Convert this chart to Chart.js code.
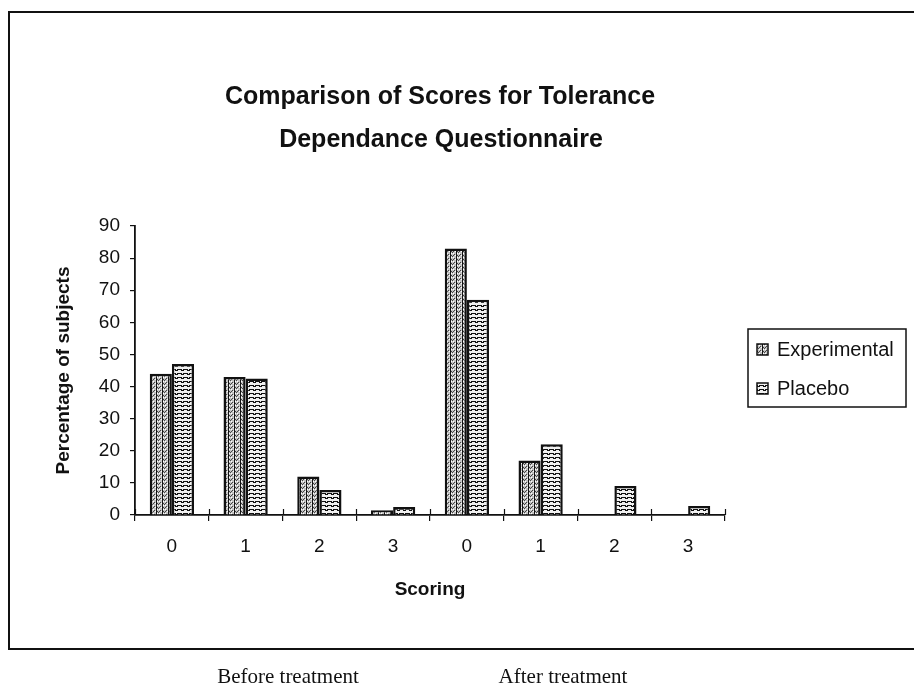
<!DOCTYPE html>
<html>
<head>
<meta charset="utf-8">
<script src="https://cdn.jsdelivr.net/npm/chart.js@4/dist/chart.umd.min.js"></script>
<style>
  html, body { margin: 0; padding: 0; background: #fff; }
  body { width: 914px; height: 697px; position: relative; overflow: hidden; }
  #wrap { position: absolute; left: 0; top: 0; width: 914px; height: 697px; }
  #frame { position: absolute; left: 8px; top: 11px; width: 920px; height: 635px;
           border: 2px solid #111; box-sizing: content-box; pointer-events: none; }
  .cap { position: absolute; top: 664px; font-family: "Liberation Serif", "Times New Roman", serif;
         font-size: 21px; color: #111; white-space: nowrap; transform: translateX(-50%); }
</style>
</head>
<body>
<div id="wrap"><canvas id="c" width="914" height="697"></canvas></div>
<div id="frame"></div>
<div class="cap" style="left:288px">Before treatment</div>
<div class="cap" style="left:563px">After treatment</div>
<script>
// ---- data ----
const categories = ["0", "1", "2", "3", "0", "1", "2", "3"];
const experimental = [44, 43, 12, 1.5, 83, 17, 0, 0];
const placebo = [47, 42.5, 7.8, 2.5, 67, 22, 9, 2.8];
const seriesNames = ["Experimental", "Placebo"];
const titleLines = ["Comparison of Scores for Tolerance", "Dependance Questionnaire"];
const yTitle = "Percentage of subjects";
const xTitle = "Scoring";

const FONT = '"Liberation Sans", Arial, sans-serif';

// ---- patterns ----
function makeExpPattern() {
  const c = document.createElement('canvas'); c.width = 6; c.height = 4;
  const g = c.getContext('2d');
  g.fillStyle = '#c4c4c4'; g.fillRect(0, 0, 6, 4);
  g.fillStyle = '#444';
  g.fillRect(2, 0, 1, 1); g.fillRect(4, 2, 1, 1); g.fillRect(1, 3, 1, 1); g.fillRect(3, 3, 1, 1);
  g.fillStyle = '#fff'; g.fillRect(3, 1, 1, 1); g.fillRect(5, 3, 1, 1); g.fillRect(1, 1, 1, 1);
  g.fillStyle = '#111'; g.fillRect(0, 0, 1, 4);
  return g.createPattern(c, 'repeat');
}
function makePlaPattern() {
  const c = document.createElement('canvas'); c.width = 6; c.height = 4;
  const g = c.getContext('2d');
  g.fillStyle = '#f0f0f0'; g.fillRect(0, 0, 6, 4);
  g.fillStyle = '#111';
  g.fillRect(0, 1, 2, 1); g.fillRect(2, 2, 2, 1); g.fillRect(4, 1, 2, 1);
  g.fillRect(1, 2, 1, 1); g.fillRect(3, 1, 1, 1);
  return g.createPattern(c, 'repeat');
}
const expPat = makeExpPattern();
const plaPat = makePlaPattern();

const decor = {
  id: 'decor',
  afterDraw(chart) {
    const ctx = chart.ctx;
    ctx.save();
    // x-axis tick marks crossing the axis (upper part)
    const xs = chart.scales.x, ys = chart.scales.y;
    const y0 = ys.getPixelForValue(0);
    ctx.strokeStyle = '#111'; ctx.lineWidth = 1.2;
    for (let i = 0; i <= categories.length; i++) {
      const px = Math.round(xs.getPixelForValue(i - 0.5)) + 0.5;
      ctx.beginPath(); ctx.moveTo(px, y0 - 6); ctx.lineTo(px, y0); ctx.stroke();
    }
    // title
    ctx.fillStyle = '#111';
    ctx.font = 'bold 25px ' + FONT;
    ctx.textAlign = 'center'; ctx.textBaseline = 'alphabetic';
    ctx.fillText(titleLines[0], 440, 104);
    ctx.fillText(titleLines[1], 441, 147);
    // legend
    ctx.lineWidth = 1.5; ctx.strokeStyle = '#111';
    ctx.strokeRect(748, 329, 158, 78);
    const items = [[seriesNames[0], expPat, 349], [seriesNames[1], plaPat, 388]];
    ctx.font = '20px ' + FONT;
    ctx.textAlign = 'left'; ctx.textBaseline = 'middle';
    for (const [name, pat, y] of items) {
      ctx.fillStyle = pat; ctx.fillRect(757, y - 5, 11, 11);
      ctx.lineWidth = 1.5; ctx.strokeRect(757, y - 5, 11, 11);
      ctx.fillStyle = '#111'; ctx.fillText(name, 777, y + 1);
    }
    ctx.restore();
  }
};

new Chart(document.getElementById('c'), {
  type: 'bar',
  data: {
    labels: categories,
    datasets: [
      { label: seriesNames[0], data: experimental, backgroundColor: expPat, borderColor: '#111', borderWidth: 2.5 },
      { label: seriesNames[1], data: placebo, backgroundColor: plaPat, borderColor: '#111', borderWidth: 2.5 }
    ]
  },
  options: {
    responsive: false,
    animation: false,
    layout: { padding: { left: 0, right: 189, top: 226, bottom: 92 } },
    datasets: { bar: { categoryPercentage: 0.6, barPercentage: 1.0 } },
    plugins: { legend: { display: false }, title: { display: false }, tooltip: { enabled: false } },
    scales: {
      x: {
        afterFit(s) { s.height = 90; },
        grid: { display: true, drawOnChartArea: false, drawTicks: true, tickLength: 6, color: '#111', lineWidth: 1.2, offset: true },
        border: { display: true, color: '#111', width: 1.8 },
        ticks: { color: '#111', padding: 14, font: { family: FONT, size: 19 } },
        title: { display: true, text: xTitle, color: '#111', padding: { top: 4, bottom: 4 },
                 font: { family: FONT, size: 19, weight: 'bold' } }
      },
      y: {
        min: 0, max: 90,
        afterFit(s) { s.width = 135; },
        ticks: { stepSize: 10, color: '#111', padding: 10, font: { family: FONT, size: 19 } },
        grid: { display: true, drawOnChartArea: false, drawTicks: true, tickLength: 5, color: '#111', lineWidth: 1.2 },
        border: { display: true, color: '#111', width: 1.8 },
        title: { display: true, text: yTitle, color: '#111', padding: { top: 52, bottom: 0 },
                 font: { family: FONT, size: 19, weight: 'bold' } }
      }
    }
  },
  plugins: [decor]
});
</script>
</body>
</html>
